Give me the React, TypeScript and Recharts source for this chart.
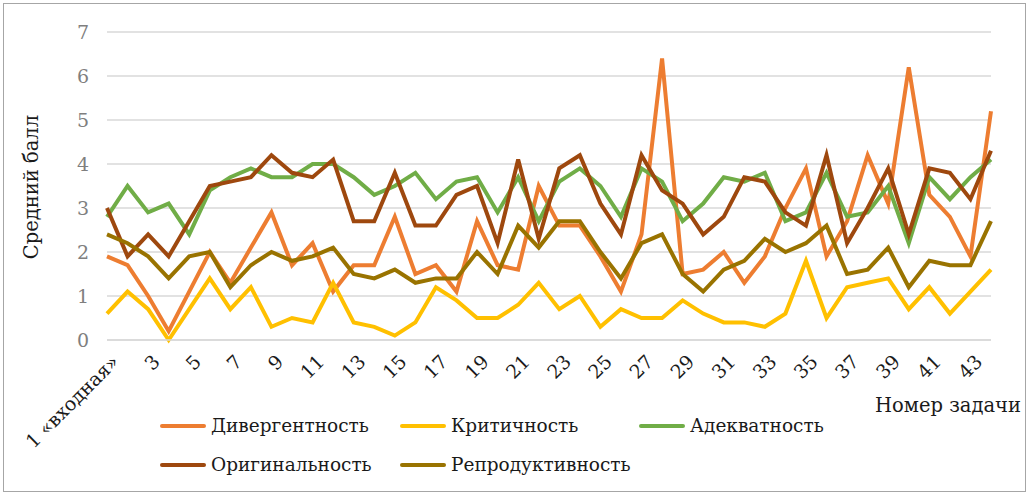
import { LineChart, Line, XAxis, YAxis, CartesianGrid, Legend } from "recharts";

const tasks: string[] = [
    "1 «входная»", "2", "3", "4", "5", "6", "7", "8", "9", "10", "11",
    "12", "13", "14", "15", "16", "17", "18", "19", "20", "21", "22",
    "23", "24", "25", "26", "27", "28", "29", "30", "31", "32", "33",
    "34", "35", "36", "37", "38", "39", "40", "41", "42", "43", "44",
];

const divergence: number[] = [
    1.9, 1.7, 1.0, 0.2, 1.1, 2.0, 1.3, 2.1, 2.9, 1.7, 2.2,
    1.1, 1.7, 1.7, 2.8, 1.5, 1.7, 1.1, 2.7, 1.7, 1.6, 3.5,
    2.6, 2.6, 1.9, 1.1, 2.4, 6.4, 1.5, 1.6, 2.0, 1.3, 1.9,
    3.0, 3.9, 1.9, 2.7, 4.2, 3.1, 6.2, 3.3, 2.8, 1.9, 5.2,
];
const criticality: number[] = [
    0.6, 1.1, 0.7, 0.0, 0.7, 1.4, 0.7, 1.2, 0.3, 0.5, 0.4,
    1.3, 0.4, 0.3, 0.1, 0.4, 1.2, 0.9, 0.5, 0.5, 0.8, 1.3,
    0.7, 1.0, 0.3, 0.7, 0.5, 0.5, 0.9, 0.6, 0.4, 0.4, 0.3,
    0.6, 1.8, 0.5, 1.2, 1.3, 1.4, 0.7, 1.2, 0.6, 1.1, 1.6,
];
const adequacy: number[] = [
    2.8, 3.5, 2.9, 3.1, 2.4, 3.4, 3.7, 3.9, 3.7, 3.7, 4.0,
    4.0, 3.7, 3.3, 3.5, 3.8, 3.2, 3.6, 3.7, 2.9, 3.7, 2.7,
    3.6, 3.9, 3.5, 2.8, 3.9, 3.6, 2.7, 3.1, 3.7, 3.6, 3.8,
    2.7, 2.9, 3.8, 2.8, 2.9, 3.5, 2.2, 3.7, 3.2, 3.7, 4.1,
];
const originality: number[] = [
    3.0, 1.9, 2.4, 1.9, 2.7, 3.5, 3.6, 3.7, 4.2, 3.8, 3.7,
    4.1, 2.7, 2.7, 3.8, 2.6, 2.6, 3.3, 3.5, 2.2, 4.1, 2.3,
    3.9, 4.2, 3.1, 2.4, 4.2, 3.4, 3.1, 2.4, 2.8, 3.7, 3.6,
    2.9, 2.6, 4.2, 2.2, 3.0, 3.9, 2.4, 3.9, 3.8, 3.2, 4.3,
];
const reproductivity: number[] = [
    2.4, 2.2, 1.9, 1.4, 1.9, 2.0, 1.2, 1.7, 2.0, 1.8, 1.9,
    2.1, 1.5, 1.4, 1.6, 1.3, 1.4, 1.4, 2.0, 1.5, 2.6, 2.1,
    2.7, 2.7, 2.0, 1.4, 2.2, 2.4, 1.5, 1.1, 1.6, 1.8, 2.3,
    2.0, 2.2, 2.6, 1.5, 1.6, 2.1, 1.2, 1.8, 1.7, 1.7, 2.7,
];

const yTicks: number[] = [0, 1, 2, 3, 4, 5, 6, 7];

const series = [
    { key: "div", name: "Дивергентность", color: "#ED7D31", values: divergence },
    { key: "crit", name: "Критичность", color: "#FFC000", values: criticality },
    { key: "adeq", name: "Адекватность", color: "#70AD47", values: adequacy },
    { key: "orig", name: "Оригинальность", color: "#9E480E", values: originality },
    { key: "repr", name: "Репродуктивность", color: "#997300", values: reproductivity },
];

const data = tasks.map((task, i) => {
    const row: Record<string, string | number> = { task };
    series.forEach((s) => { row[s.key] = s.values[i]; });
    return row;
});

// only DejaVu Serif resolves as a serif face here
const FONT = '"DejaVu Serif", serif';
const TEXT = "#1a1a1a";

// positions of the legend entries (two rows, three columns)
const legendSlots = [
    { left: 160, top: 5 }, { left: 400, top: 5 }, { left: 639, top: 5 },
    { left: 160, top: 44 }, { left: 400, top: 44 },
];

const XTick = (props: any) => {
    const { x, y, payload } = props;
    return (
        <g transform={`translate(${x + 13},${y + 15})`}>
            <text textAnchor="end" transform="rotate(-45)" style={{ fontFamily: FONT }} fontSize={19} fill={TEXT}>
                {payload.value}
            </text>
        </g>
    );
};

const XLabel = (props: any) => {
    const { viewBox } = props;
    return (
        <text x={1021} y={viewBox.y + 72} textAnchor="end" style={{ fontFamily: FONT }} fontSize={19.5} fill={TEXT}>
            Номер задачи
        </text>
    );
};

const YLabel = () => (
    <text x={38} y={187} textAnchor="middle" transform="rotate(-90, 38, 187)" style={{ fontFamily: FONT }} fontSize={19.5} fill={TEXT}>
        Средний балл
    </text>
);

const LegendBox = () => (
    <div style={{ position: "relative", height: 80, fontFamily: FONT, fontSize: 18.5, color: TEXT }}>
        {series.map((s, i) => (
            <div
                key={s.key}
                style={{ position: "absolute", left: legendSlots[i].left, top: legendSlots[i].top, display: "flex", alignItems: "center", whiteSpace: "nowrap" }}
            >
                <span style={{ display: "inline-block", width: 46, height: 4, background: s.color, borderRadius: 2, marginRight: 5 }} />
                <span>{s.name}</span>
            </div>
        ))}
    </div>
);

export default function App() {
    return (
        <div style={{ position: "absolute", left: 0, top: 0, width: 1029, height: 495, background: "#fff" }}>
            <div style={{ position: "absolute", left: 3, top: 3, width: 1021, height: 487, border: "1px solid #a6a6a6" }} />
            <LineChart
                width={1029}
                height={495}
                data={data}
                margin={{ top: 32, right: 38, left: 47, bottom: 0 }}
            >
                <CartesianGrid vertical={false} stroke="#d9d9d9" strokeWidth={1.5} />
                <XAxis
                    dataKey="task"
                    interval={1}
                    height={155}
                    axisLine={{ stroke: "#d9d9d9", strokeWidth: 1.5 }}
                    tickLine={false}
                    tick={<XTick />}
                    label={<XLabel />}
                />
                <YAxis
                    width={60}
                    domain={[0, 7]}
                    ticks={yTicks}
                    axisLine={false}
                    tickLine={false}
                    tick={{ fontFamily: FONT, fontSize: 19, fill: "#7f7f7f" }}
                    tickMargin={12}
                    label={<YLabel />}
                />
                <Legend
                    layout="horizontal"
                    verticalAlign="middle"
                    align="center"
                    wrapperStyle={{ left: 0, top: 410, width: 1029 }}
                    content={<LegendBox />}
                />
                {series.map((s) => (
                    <Line
                        key={s.key}
                        type="linear"
                        dataKey={s.key}
                        name={s.name}
                        stroke={s.color}
                        strokeWidth={4}
                        dot={false}
                        isAnimationActive={false}
                    />
                ))}
            </LineChart>
        </div>
    );
}
